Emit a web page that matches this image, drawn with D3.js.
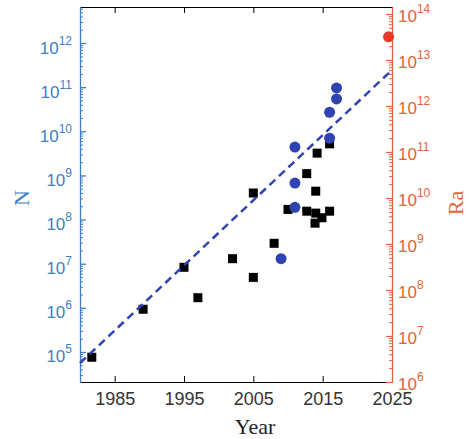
<!DOCTYPE html>
<html>
<head>
<meta charset="utf-8">
<script src="https://cdn.jsdelivr.net/npm/d3@7"></script>
<style>
  body { margin: 0; background: #fff; }
  text { font-family: "Liberation Sans", Arial, sans-serif; }
</style>
</head>
<body>
<script>
// black squares (N)
var squareYears = [1981.7, 1989.1, 1995, 1997, 2002, 2005, 2005, 2008, 2010, 2012.7, 2012.7, 2014, 2014, 2013.9, 2014.9, 2016, 2014.2, 2016];
var squareN = [7.6e4, 9.3e5, 8.3e6, 1.7e6, 1.3e7, 4.9e6, 4.0e8, 2.9e7, 1.7e8, 1.1e9, 1.55e8, 4.4e8, 1.4e8, 8.3e7, 1.1e8, 1.55e8, 3.2e9, 5.2e9];

// blue circles (N)
var circleYears = [2009, 2011, 2011, 2011, 2016, 2016, 2017, 2017];
var circleN = [1.3e7, 1.9e8, 6.7e8, 4.4e9, 7.0e9, 2.7e10, 5.4e10, 9.6e10];

// red circle (Ra)
var redYears = [2024.5];
var redRa = [3.2e13];

// dashed fit (N)
var fitYears = [1980, 2025];
var fitN = [5.6e4, 2.45e11];

var yearTicks = [1985, 1995, 2005, 2015, 2025];
var nTicks = [1e5, 1e6, 1e7, 1e8, 1e9, 1e10, 1e11, 1e12];
var raTicks = [1e6, 1e7, 1e8, 1e9, 1e10, 1e11, 1e12, 1e13, 1e14];

var width = 469, height = 439;
var plotLeft = 80, plotRight = 392, plotTop = 7, plotBottom = 382;

var blue = "#3d7fc5", orange = "#e0643b", dotBlue = "#2f44b2", red = "#e8372b";

var svg = d3.select("body").append("svg")
    .attr("width", width)
    .attr("height", height);

var x = d3.scaleLinear().domain([1980, 2025]).range([plotLeft, plotRight]);
var yN = d3.scaleLog().domain([2.09e4, 6.55e12]).range([plotBottom, plotTop]);
var yRa = d3.scaleLog().domain([1e6, 1.42e14]).range([plotBottom, plotTop]);

function minors(scale) {
    var d = scale.domain(), out = [];
    for (var e = Math.floor(Math.log10(d[0])); e <= Math.ceil(Math.log10(d[1])); e++) {
        for (var k = 2; k <= 9; k++) {
            var v = k * Math.pow(10, e);
            if (v >= d[0] && v <= d[1]) out.push(v);
        }
    }
    return out;
}

function superscript(g, dyBase) {
    g.selectAll(".tick text").each(function (d) {
        var t = d3.select(this);
        t.text(null).attr("dy", null).attr("y", dyBase);
        t.append("tspan").text("10");
        t.append("tspan").attr("font-size", 12).attr("dy", -9).text(Math.round(Math.log10(d)));
    });
}

// top and bottom axes
svg.append("g")
    .attr("transform", "translate(0," + plotTop + ")")
    .call(d3.axisTop(x).tickValues(yearTicks).tickSizeInner(-6).tickSizeOuter(0).tickFormat(""))
    .call(g => g.selectAll("path, line").attr("stroke", "#000"));

var xAxis = svg.append("g")
    .attr("transform", "translate(0," + plotBottom + ")")
    .call(d3.axisBottom(x).tickValues(yearTicks).tickSizeInner(-6).tickSizeOuter(0).tickPadding(10).tickFormat(d3.format("d")));
xAxis.selectAll("path, line").attr("stroke", "#000");
xAxis.selectAll("text").attr("font-size", 18).attr("fill", "#333");

// left N axis
svg.append("g")
    .attr("transform", "translate(" + plotLeft + ",0)")
    .call(d3.axisLeft(yN).tickValues(minors(yN)).tickSizeInner(-3).tickSizeOuter(0).tickFormat(""))
    .call(g => g.selectAll("path, line").attr("stroke", blue));

var nAxis = svg.append("g")
    .attr("transform", "translate(" + plotLeft + ",0)")
    .call(d3.axisLeft(yN).tickValues(nTicks).tickSizeInner(-6).tickSizeOuter(0).tickPadding(8));
nAxis.selectAll("path, line").attr("stroke", blue).attr("stroke-width", 1.3);
nAxis.selectAll("text").attr("font-size", 17).attr("fill", blue);
superscript(nAxis, 10);

// right Ra axis
svg.append("g")
    .attr("transform", "translate(" + plotRight + ",0)")
    .call(d3.axisRight(yRa).tickValues(minors(yRa)).tickSizeInner(-3).tickSizeOuter(0).tickFormat(""))
    .call(g => g.selectAll("path, line").attr("stroke", orange));

var raAxis = svg.append("g")
    .attr("transform", "translate(" + plotRight + ",0)")
    .call(d3.axisRight(yRa).tickValues(raTicks).tickSizeInner(-6).tickSizeOuter(0).tickPadding(6));
raAxis.selectAll("path, line").attr("stroke", orange).attr("stroke-width", 1.3);
raAxis.selectAll("text").attr("font-size", 17).attr("fill", orange);
superscript(raAxis, 7);

// axis titles
svg.append("text")
    .attr("x", 255).attr("y", 434)
    .attr("text-anchor", "middle")
    .style("font-family", "'Liberation Serif', 'Times New Roman', serif")
    .attr("font-size", 22).attr("fill", "#222")
    .text("Year");

svg.append("text")
    .attr("transform", "translate(29,198) rotate(-90)")
    .attr("text-anchor", "middle")
    .style("font-family", "'Liberation Serif', 'Times New Roman', serif")
    .attr("font-size", 22).attr("fill", blue)
    .text("N");

svg.append("text")
    .attr("transform", "translate(463,203) rotate(-90)")
    .attr("text-anchor", "middle")
    .style("font-family", "'Liberation Serif', 'Times New Roman', serif")
    .attr("font-size", 22).attr("fill", orange)
    .text("Ra");

// squares
var sq = 9;
svg.append("g").selectAll("rect")
    .data(squareYears.map((yr, i) => [yr, squareN[i]]))
    .enter().append("rect")
    .attr("x", d => x(d[0]) - sq / 2)
    .attr("y", d => yN(d[1]) - sq / 2)
    .attr("width", sq).attr("height", sq)
    .attr("fill", "#000");

// dashed fit line
var line = d3.line()
    .x(d => x(d[0]))
    .y(d => yN(d[1]));

svg.append("path")
    .datum(fitYears.map((yr, i) => [yr, fitN[i]]))
    .attr("d", line)
    .attr("fill", "none")
    .attr("stroke", dotBlue)
    .attr("stroke-width", 2.5)
    .attr("stroke-dasharray", "8,5");

// blue circles
svg.append("g").selectAll("circle")
    .data(circleYears.map((yr, i) => [yr, circleN[i]]))
    .enter().append("circle")
    .attr("cx", d => x(d[0]))
    .attr("cy", d => yN(d[1]))
    .attr("r", 5.5)
    .attr("fill", dotBlue);

// red circle on Ra axis
svg.append("g").selectAll("circle")
    .data(redYears.map((yr, i) => [yr, redRa[i]]))
    .enter().append("circle")
    .attr("cx", d => x(d[0]))
    .attr("cy", d => yRa(d[1]))
    .attr("r", 5.5)
    .attr("fill", red);
</script>
</body>
</html>
